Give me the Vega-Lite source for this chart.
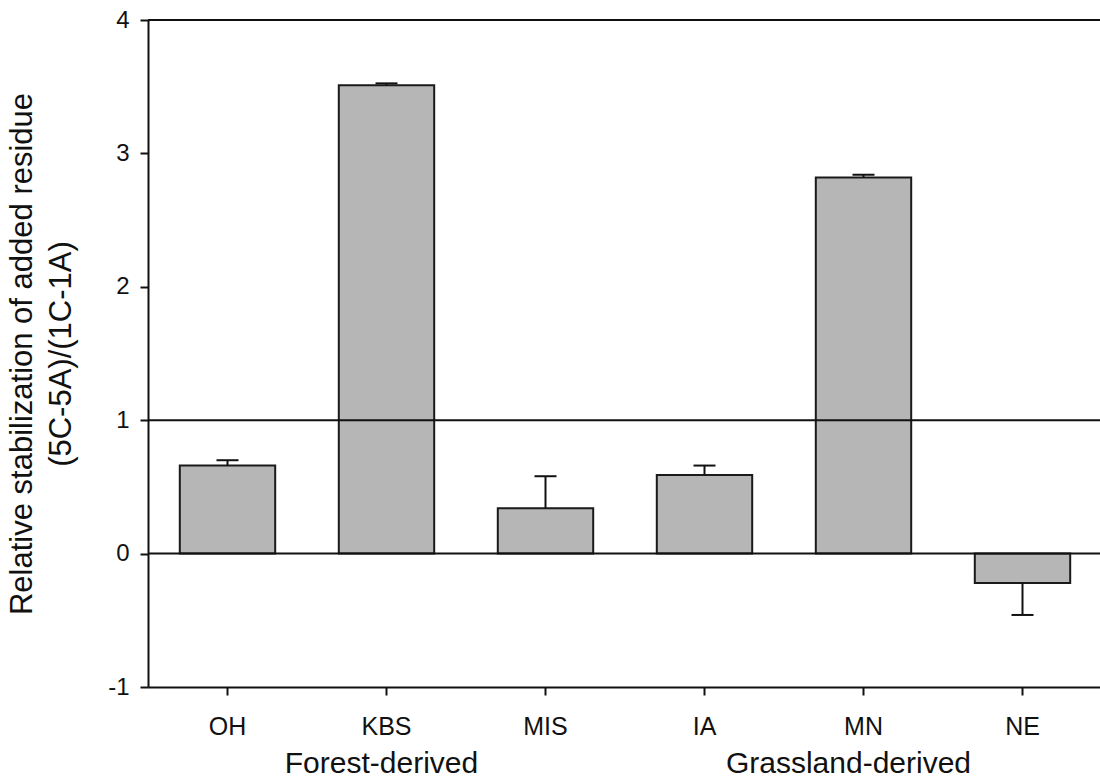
{
  "$schema": "https://vega.github.io/schema/vega-lite/v6.json",
  "width": 954,
  "height": 667,
  "autosize": {"type": "none"},
  "padding": {"left": 148, "top": 20, "right": 0, "bottom": 91},
  "background": "white",
  "config": {
    "view": {"stroke": null},
    "font": "Liberation Sans",
    "axis": {
      "domainColor": "#111",
      "domainWidth": 2,
      "tickColor": "#111",
      "tickWidth": 2,
      "tickSize": 8,
      "labelColor": "#111",
      "titleColor": "#111",
      "grid": false,
      "labelFont": "Liberation Sans",
      "titleFont": "Liberation Sans"
    },
    "axisX": {"labelFontSize": 25, "labelPadding": 19, "labelAngle": 0},
    "axisY": {"labelFontSize": 24, "labelPadding": 11}
  },
  "datasets": {
    "bars": [
      {"site": "OH", "value": 0.66, "hi": 0.70},
      {"site": "KBS", "value": 3.51, "hi": 3.525},
      {"site": "MIS", "value": 0.34, "hi": 0.58},
      {"site": "IA", "value": 0.59, "hi": 0.66},
      {"site": "MN", "value": 2.82, "hi": 2.84},
      {"site": "NE", "value": -0.22, "hi": -0.46}
    ],
    "lines": [{"v": 4}, {"v": 1}, {"v": 0}]
  },
  "encoding": {
    "x": {
      "field": "site", "type": "nominal",
      "scale": {"domain": ["OH", "KBS", "MIS", "IA", "MN", "NE"], "paddingInner": 0.4, "paddingOuter": 0.2},
      "axis": {"title": null}
    }
  },
  "layer": [
    {
      "data": {"name": "bars"},
      "mark": {"type": "bar", "fill": "#b6b6b6", "stroke": "#1a1a1a", "strokeWidth": 2},
      "encoding": {
        "y": {
          "field": "value", "type": "quantitative",
          "scale": {"domain": [-1, 4], "nice": false, "zero": false},
          "axis": {
            "values": [-1, 0, 1, 2, 3, 4],
            "labelExpr": "'' + datum.value",
            "title": ["Relative stabilization of added residue", "(5C-5A)/(1C-1A)"],
            "titleFontSize": 31,
            "titleFontWeight": "normal",
            "titleLineHeight": 39,
            "titlePadding": 30
          }
        }
      }
    },
    {
      "data": {"name": "bars"},
      "mark": {"type": "rule", "color": "#111", "strokeWidth": 2},
      "encoding": {
        "y": {"field": "value", "type": "quantitative"},
        "y2": {"field": "hi"}
      }
    },
    {
      "data": {"name": "bars"},
      "mark": {"type": "tick", "color": "#111", "size": 22, "thickness": 2, "opacity": 1},
      "encoding": {
        "y": {"field": "hi", "type": "quantitative"}
      }
    },
    {
      "data": {"name": "lines"},
      "mark": {"type": "rule", "color": "#111", "strokeWidth": 2},
      "encoding": {
        "x": null,
        "y": {"field": "v", "type": "quantitative"}
      }
    },
    {
      "data": {"values": [{"site": "KBS", "label": "Forest-derived"}]},
      "mark": {"type": "text", "fontSize": 30, "color": "#111", "baseline": "alphabetic", "align": "center", "dy": 86, "dx": -5},
      "encoding": {
        "y": {"datum": -1},
        "text": {"field": "label"}
      }
    },
    {
      "data": {"values": [{"site": "MN", "label": "Grassland-derived"}]},
      "mark": {"type": "text", "fontSize": 30, "color": "#111", "baseline": "alphabetic", "align": "center", "dy": 86, "dx": -15},
      "encoding": {
        "y": {"datum": -1},
        "text": {"field": "label"}
      }
    }
  ]
}
